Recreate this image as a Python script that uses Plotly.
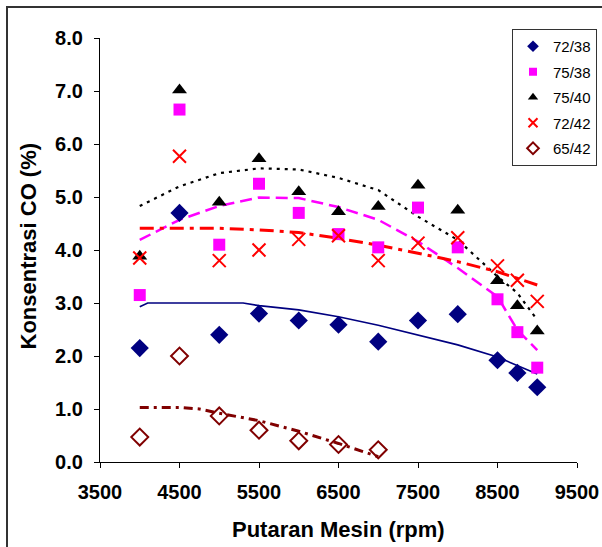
import plotly.graph_objects as go

rpm = [4000, 4500, 5000, 5500, 6000, 6500, 7000, 7500, 8000, 8500, 8750, 9000]
rpm_6542 = [4000, 4500, 5000, 5500, 6000, 6500, 7000]

co_7238 = [2.15, 4.70, 2.40, 2.80, 2.67, 2.59, 2.27, 2.67, 2.79, 1.92, 1.68, 1.41]
co_7538 = [3.15, 6.65, 4.10, 5.25, 4.70, 4.30, 4.05, 4.80, 4.05, 3.07, 2.45, 1.78]
co_7540 = [3.88, 7.02, 4.90, 5.72, 5.10, 4.72, 4.82, 5.22, 4.75, 3.42, 2.95, 2.47]
co_7242 = [3.85, 5.77, 3.80, 4.00, 4.20, 4.27, 3.80, 4.13, 4.23, 3.70, 3.43, 3.03]
co_6542 = [0.47, 2.00, 0.87, 0.60, 0.40, 0.33, 0.23]

# trendlines
tr_x_7238 = [4000, 4100, 5300, 5500, 6000, 6500, 7000, 7500, 8000, 8500, 9000]
tr_7238 = [2.93, 3.00, 3.00, 2.95, 2.87, 2.74, 2.58, 2.40, 2.21, 1.98, 1.66]
tr_7538 = [4.19, 4.57, 4.83, 4.99, 4.98, 4.81, 4.57, 4.16, 3.66, 3.12, 2.49, 2.11]
tr_7540 = [4.83, 5.20, 5.45, 5.54, 5.52, 5.36, 5.13, 4.63, 4.19, 3.50, 3.19, 2.68]
tr_7242 = [4.41, 4.41, 4.41, 4.38, 4.33, 4.22, 4.09, 3.94, 3.78, 3.59, 3.47, 3.34]
tr_x_6542 = [4000, 4500, 4750, 5000, 5500, 6000, 6500, 7000]
tr_6542 = [1.03, 1.03, 1.00, 0.92, 0.78, 0.58, 0.35, 0.10]

series_names = ["72/38", "75/38", "75/40", "72/42", "65/42"]
y_ticks = [0, 1, 2, 3, 4, 5, 6, 7, 8]
x_ticks = [3500, 4500, 5500, 6500, 7500, 8500, 9500]

navy = "#000080"
mag = "#FF00FF"
blk = "#000000"
red = "#FF0000"
dred = "#800000"

FONT = "Liberation Sans, Arial, sans-serif"

fig = go.Figure()

# trendlines
fig.add_trace(go.Scatter(x=tr_x_7238, y=tr_7238, mode="lines", line=dict(color=navy, width=1.6), showlegend=False, hoverinfo="skip"))
fig.add_trace(go.Scatter(x=rpm, y=tr_7538, mode="lines", line=dict(color=mag, width=2.5, dash="12px,6px"), showlegend=False, hoverinfo="skip"))
fig.add_trace(go.Scatter(x=rpm, y=tr_7540, mode="lines", line=dict(color=blk, width=2.2, dash="3px,5px"), showlegend=False, hoverinfo="skip"))
fig.add_trace(go.Scatter(x=rpm, y=tr_7242, mode="lines", line=dict(color=red, width=3, dash="14px,6px,4px,6px"), showlegend=False, hoverinfo="skip"))
fig.add_trace(go.Scatter(x=tr_x_6542, y=tr_6542, mode="lines", line=dict(color=dred, width=3, dash="9px,5px,3px,5px"), showlegend=False, hoverinfo="skip"))

# data markers
plot_markers = [
    dict(symbol="diamond", color=navy, size=14),
    dict(symbol="square", color=mag, size=12),
    dict(symbol="triangle-up", color=blk, size=13),
    dict(symbol="x-thin", color=red, size=13, line=dict(color=red, width=2)),
    dict(symbol="diamond-open", color=dred, size=13, line=dict(color=dred, width=2)),
]
legend_markers = [
    dict(symbol="diamond", color=navy, size=9),
    dict(symbol="square", color=mag, size=8),
    dict(symbol="triangle-up", color=blk, size=9),
    dict(symbol="x-thin", color=red, size=9, line=dict(color=red, width=2)),
    dict(symbol="diamond-open", color=dred, size=9, line=dict(color=dred, width=2)),
]
xs = [rpm, rpm, rpm, rpm, rpm_6542]
ys = [co_7238, co_7538, co_7540, co_7242, co_6542]

for name, x, y, m in zip(series_names, xs, ys, plot_markers):
    fig.add_trace(go.Scatter(x=x, y=y, mode="markers", name=name, marker=m, showlegend=False))

for name, m in zip(series_names, legend_markers):
    fig.add_trace(go.Scatter(x=[None], y=[None], mode="markers", name=name, marker=m,
                             legendgroup=name, showlegend=True))

L, R, T, B = 100, 25, 38, 85
W, H = 602, 547
pw, ph = W - L - R, H - T - B

fig.update_layout(
    width=W, height=H,
    margin=dict(l=L, r=R, t=T, b=B, autoexpand=False),
    paper_bgcolor="white", plot_bgcolor="white",
    font=dict(family=FONT, color="black"),
    xaxis=dict(range=[3500, 9500], tickvals=x_ticks, showgrid=False, zeroline=False,
               showline=True, linecolor="black", linewidth=1.2, ticks="outside", ticklen=5,
               tickcolor="black", ticklabelstandoff=7, automargin=False,
               tickfont=dict(family=FONT, size=20, color="black", weight="bold")),
    yaxis=dict(range=[0, 8], tickvals=y_ticks, tickformat=".1f", showgrid=False, zeroline=False,
               showline=True, linecolor="black", linewidth=1.2, ticks="outside", ticklen=5,
               tickcolor="black", ticklabelstandoff=7, automargin=False,
               tickfont=dict(family=FONT, size=20, color="black", weight="bold")),
    legend=dict(x=(597 - L) / pw, y=(H - B - 29) / ph, xanchor="right", yanchor="top",
                bordercolor="#333333", borderwidth=1, bgcolor="white",
                font=dict(family=FONT, size=15, color="black"),
                tracegroupgap=3, itemwidth=30),
    showlegend=True,
    annotations=[
        dict(text="<b>Konsentrasi CO (%)</b>", xref="paper", yref="paper",
             x=(28 - L) / pw, y=(H - B - 246.5) / ph, textangle=-90, showarrow=False,
             xanchor="center", yanchor="middle", font=dict(family=FONT, size=22, color="black")),
        dict(text="<b>Putaran Mesin (rpm)</b>", xref="paper", yref="paper",
             x=0.5, y=(H - B - 529) / ph, showarrow=False,
             xanchor="center", yanchor="middle", font=dict(family=FONT, size=22, color="black")),
    ],
    shapes=[
        dict(type="rect", xref="paper", yref="paper", layer="above",
             x0=(7 - L) / pw, x1=(640 - L) / pw,
             y0=(H - B - 600) / ph, y1=(H - B - 7) / ph,
             line=dict(color="#333333", width=2), fillcolor="rgba(0,0,0,0)"),
    ],
)

fig.write_html("out.html", config={"displayModeBar": False},
               post_script="document.body.style.margin='0';document.body.style.overflow='hidden';")
